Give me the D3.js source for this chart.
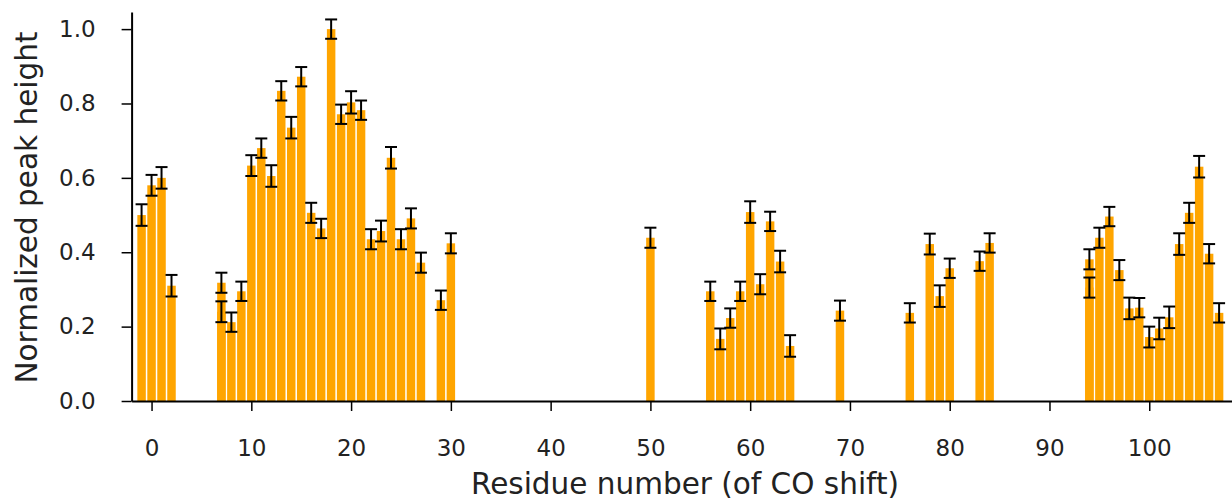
<!DOCTYPE html>
<html>
<head>
<meta charset="utf-8">
<script src="https://cdn.jsdelivr.net/npm/d3@7/dist/d3.min.js"></script>
<style>
    html, body { margin: 0; padding: 0; background: #fff; }
    svg { display: block; font-family: 'DejaVu Sans', sans-serif; }
</style>
</head>
<body>
<div id="chart"></div>
<script>
// residue numbers (7 and 94 have two peaks each)
var residues = [-1, 0, 1, 2, 7, 7, 8, 9, 10, 11, 12, 13, 14, 15, 16, 17, 18, 19, 20, 21,
    22, 23, 24, 25, 26, 27, 29, 30, 50, 56, 57, 58, 59, 60, 61, 62, 63, 64, 69, 76,
    78, 79, 80, 83, 84, 94, 94, 95, 96, 97, 98, 99, 100, 101, 102, 103, 104, 105, 106, 107];

var heights = [0.50, 0.58, 0.60, 0.31, 0.318, 0.24, 0.212, 0.295, 0.633, 0.68,
    0.605, 0.834, 0.735, 0.872, 0.506, 0.464, 1.0, 0.771, 0.803, 0.782,
    0.435, 0.457, 0.654, 0.435, 0.491, 0.372, 0.271, 0.424, 0.439, 0.295,
    0.167, 0.223, 0.295, 0.508, 0.314, 0.483, 0.375, 0.148, 0.243, 0.237,
    0.422, 0.282, 0.357, 0.376, 0.425, 0.381, 0.305, 0.439, 0.496, 0.352,
    0.249, 0.251, 0.172, 0.195, 0.225, 0.422, 0.506, 0.630, 0.396, 0.237];

var errors = [0.029, 0.028, 0.029, 0.029, 0.027, 0.028, 0.026, 0.026, 0.028, 0.026,
    0.029, 0.026, 0.029, 0.026, 0.027, 0.026, 0.026, 0.026, 0.030, 0.026,
    0.027, 0.028, 0.029, 0.027, 0.027, 0.027, 0.026, 0.027, 0.027, 0.026,
    0.028, 0.026, 0.026, 0.029, 0.027, 0.026, 0.029, 0.029, 0.027, 0.026,
    0.028, 0.029, 0.026, 0.026, 0.026, 0.027, 0.027, 0.027, 0.026, 0.027,
    0.029, 0.026, 0.028, 0.029, 0.029, 0.029, 0.027, 0.029, 0.026, 0.026];

var xTicks = [0, 10, 20, 30, 40, 50, 60, 70, 80, 90, 100];
var yTicks = [0.0, 0.2, 0.4, 0.6, 0.8, 1.0];

(function () {
    'use strict';

    var frame = { w: 1232, h: 501 };
    var margin = { left: 131.6, right: 0, top: 12, bottom: 100 };

    var svg = d3.select('#chart').append('svg')
        .attr('width', frame.w)
        .attr('height', frame.h);

    var x = d3.scaleLinear()
        .domain([-2, 108.3])
        .range([margin.left, margin.left + 110.3 * 9.977]);

    var y = d3.scaleLinear()
        .domain([0, 1.046])
        .range([frame.h - margin.bottom, margin.top]);

    var barWidth = 0.85;
    var capHalf = 6;

    var data = residues.map(function (r, i) {
        return { res: r, value: heights[i], err: errors[i] };
    });

    // bars
    svg.append('g')
        .selectAll('rect')
        .data(data)
        .enter().append('rect')
        .attr('x', function (d) { return x(d.res - barWidth / 2); })
        .attr('width', function (d) { return x(d.res + barWidth / 2) - x(d.res - barWidth / 2); })
        .attr('y', function (d) { return y(d.value); })
        .attr('height', function (d) { return y(0) - y(d.value); })
        .attr('fill', '#ffa500');

    // error bars
    var eb = svg.append('g')
        .attr('stroke', '#000')
        .attr('stroke-width', 2)
        .selectAll('g')
        .data(data)
        .enter().append('g');

    eb.append('line')
        .attr('x1', function (d) { return x(d.res); })
        .attr('x2', function (d) { return x(d.res); })
        .attr('y1', function (d) { return y(d.value - d.err); })
        .attr('y2', function (d) { return y(d.value + d.err); });

    [-1, 1].forEach(function (s) {
        eb.append('line')
            .attr('x1', function (d) { return x(d.res) - capHalf; })
            .attr('x2', function (d) { return x(d.res) + capHalf; })
            .attr('y1', function (d) { return y(d.value + s * d.err); })
            .attr('y2', function (d) { return y(d.value + s * d.err); });
    });

    // axes
    var xAxis = svg.append('g')
        .attr('transform', 'translate(0,' + y(0) + ')')
        .call(d3.axisBottom(x).tickValues(xTicks).tickSize(10).tickPadding(29).tickSizeOuter(0)
            .tickFormat(d3.format('d')));

    var yAxis = svg.append('g')
        .attr('transform', 'translate(' + x(-2) + ',0)')
        .call(d3.axisLeft(y).tickValues(yTicks).tickSize(10).tickPadding(26).tickSizeOuter(0)
            .tickFormat(d3.format('.1f')));

    [xAxis, yAxis].forEach(function (a) {
        a.select('.domain').attr('stroke', '#000').attr('stroke-width', 2);
        a.selectAll('.tick line').attr('stroke', '#000').attr('stroke-width', 1.5);
        a.selectAll('.tick text')
            .attr('fill', '#222')
            .style('font-family', "'DejaVu Sans', sans-serif")
            .style('font-size', '23px');
    });

    // axis titles
    svg.append('text')
        .attr('x', 685)
        .attr('y', 494)
        .attr('text-anchor', 'middle')
        .attr('fill', '#222')
        .style('font-size', '29.5px')
        .text('Residue number (of CO shift)');

    svg.append('text')
        .attr('transform', 'translate(37,' + 207.5 + ') rotate(-90)')
        .attr('text-anchor', 'middle')
        .attr('fill', '#222')
        .style('font-size', '29.5px')
        .text('Normalized peak height');
}());
</script>
</body>
</html>
